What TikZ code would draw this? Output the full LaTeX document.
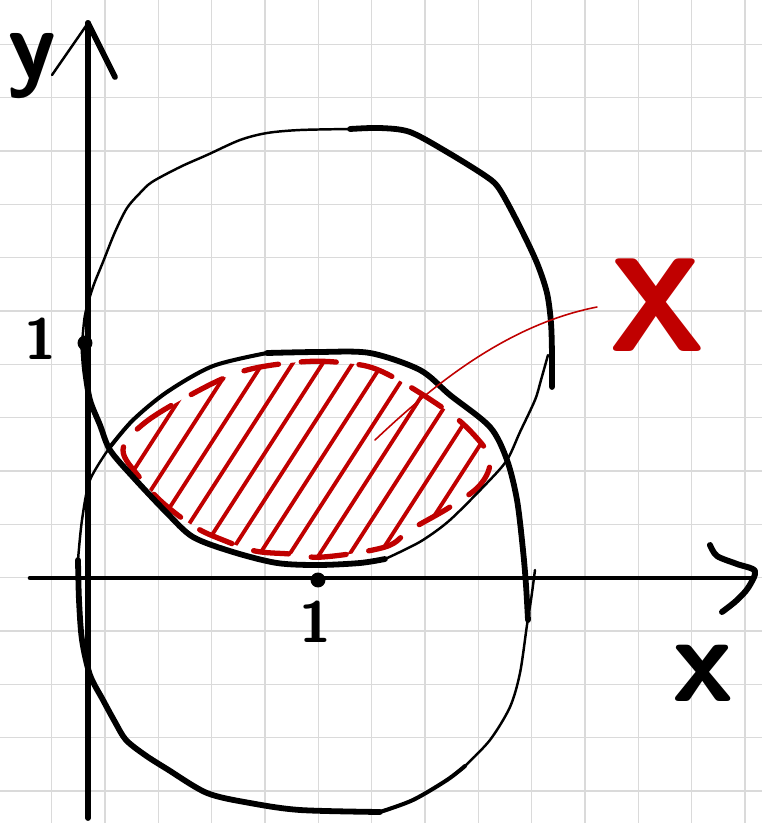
\documentclass[tikz,border=0pt]{standalone}
\usepackage{tikz}
\usetikzlibrary{calc}
\definecolor{gridgray}{RGB}{218,218,218}
\definecolor{inkred}{RGB}{192,0,0}
\tikzset{gridline/.style={gridgray, line width=0.85pt},
  thickpen/.style={line width=3.3pt, line cap=round, line join=round},
  midpen/.style={line width=2.3pt, line cap=round, line join=round},
  thinpen/.style={line width=1.4pt, line cap=round, line join=round},
  hatchpen/.style={inkred, line width=2.2pt, line cap=round},
  dashpen/.style={inkred, line width=3pt, line cap=round, dash pattern=on 20pt off 13pt},
  leaderpen/.style={inkred, line width=0.9pt, line cap=round},
  dot/.style={circle, fill, inner sep=0pt, minimum size=8.5pt},
  lab/.style={inner sep=0pt, font=\sffamily\bfseries}}

\begin{document}
\begin{tikzpicture}[x=0.02cm, y=-0.02cm]
\useasboundingbox (0,0) rectangle (762,823);
\fill[white] (0,0) rectangle (762,823);
% squared paper
\foreach \k in {0,...,13} \draw[gridline] ({51.7+53.33*\k},0) -- ++(0,823);
\foreach \k in {0,...,14} \draw[gridline] (0,{44.3+53.33*\k}) -- ++(762,0);

% hatched set X
\path[save path=\lensP] plot[smooth cycle, tension=0.6] coordinates {(123,450) (142,425) (183,399) (240,372) (300,362) (345,363) (383,372) (443,408) (475,436) (490,460) (480,485) (450,507) (410,530) (385,547) (323,557) (290,554) (255,551) (223,540) (195,527) (163,503) (140,478)};
\begin{scope}
\clip[use path=\lensP];
\foreach \k in {0,...,12} \draw[hatchpen] ({50+30*\k},600) -- ++(200,-310);
\end{scope}
\draw[dashpen, use path=\lensP];

% upper curve
\draw[thinpen] plot[smooth, tension=0.5] coordinates {(82,345) (85,315) (93,287) (103,262) (115,232) (127,208) (140,193) (152,182) (180,167) (207,155) (240,140) (267,133) (300,130) (350,129)};
\draw[thickpen] plot[smooth, tension=0.5] coordinates {(350,129) (380,128) (410,132) (447,152) (487,177) (500,190) (520,227) (537,263) (547,293) (551,323) (552,355) (552,387)};
\draw[thinpen] plot[smooth, tension=0.5] coordinates {(548,355) (541,380) (535,400) (520,432) (507,460) (487,483) (450,520) (423,540) (400,552) (385,559)};
\draw[thickpen] plot[smooth, tension=0.5] coordinates {(385,559) (360,563) (318,565) (277,563) (233,552) (193,537) (167,513) (133,477) (110,450) (100,425) (90,400) (85,370) (83,343)};

% lower curve
\draw[midpen] plot[smooth, tension=0.5] coordinates {(110,447) (133,420) (167,392) (213,366) (267,353)};
\draw[thickpen] plot[smooth, tension=0.5] coordinates {(267,353) (318,352) (370,353) (420,370) (450,395) (490,427) (507,460) (517,500) (523,550) (526,585) (528,620)};
\draw[thinpen] plot[smooth, tension=0.5] coordinates {(110,447) (90,480) (82,520) (78,560)};
\draw[thickpen] plot[smooth, tension=0.5] coordinates {(78,560) (79,600) (82,640) (90,675) (103,700) (115,722) (126,740) (145,755) (167,769) (207,793) (250,803) (300,810) (380,812)};
\draw[midpen] plot[smooth, tension=0.5] coordinates {(380,812) (413,800) (447,780) (465,766)};
\draw[thinpen] plot[smooth, tension=0.5] coordinates {(465,766) (490,740) (510,707) (520,673) (527,625) (531,600) (535,570)};

% axes
\draw[thickpen] (88,818) -- (88,23);
\draw[thinpen] (88,23) -- (52,75);
\draw[thickpen] (88,23) -- (115,77);
\draw[line width=2.6pt, line cap=round] (30,578) -- (752,578);
\draw[line width=3.4pt, line cap=round, line join=round] plot[smooth, tension=0.5] coordinates {(710,545) (717,556) (737,564) (755,571) (748,588) (736,601) (722,612)};

\node[dot] (ydot) at (85,343) {};
\node[dot] (xdot) at (318,580) {};
\node[lab, font=\sffamily\bfseries\fontsize{33}{33}\selectfont] (yone) at (40,339) {1};
\node[lab, font=\sffamily\bfseries\fontsize{33}{33}\selectfont] (xone) at (315,622) {1};
\node[lab, font=\sffamily\bfseries\fontsize{56}{56}\selectfont] (ylabel) at (32,66) {y};
\node[lab, font=\sffamily\bfseries\fontsize{70}{70}\selectfont] (xlabel) at (703,673) {x};
\node[lab, inkred, font=\sffamily\bfseries\fontsize{76}{76}\selectfont] (setX) at (657,305) {X};

% pointer to X
\coordinate (leadstart) at (375,440);
\coordinate (leadend) at (597,307);
\draw[leaderpen] (leadstart) .. controls (430,388) and (505,325) .. (leadend);
\end{tikzpicture}
\end{document}
